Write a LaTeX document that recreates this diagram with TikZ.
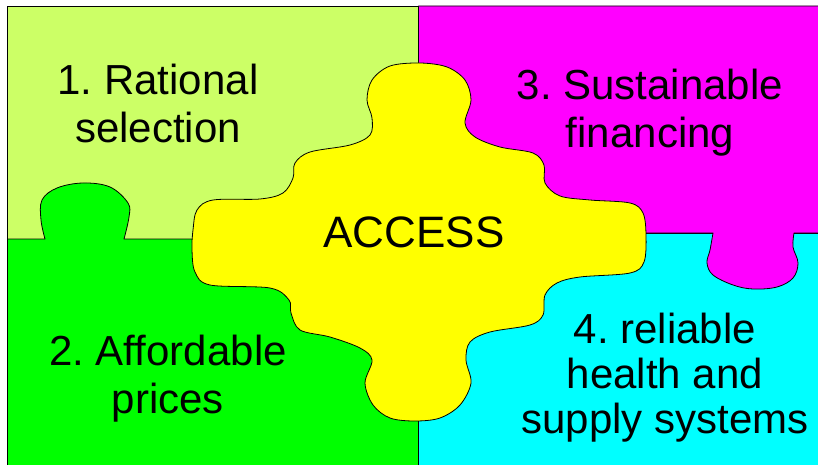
\documentclass[tikz,border=0pt]{standalone}
\usepackage{fontspec}
\setmainfont{Liberation Sans}
\frenchspacing
\definecolor{lightlime}{RGB}{204,255,102}
\definecolor{puzzlegreen}{RGB}{0,255,0}
\definecolor{puzzlemagenta}{RGB}{255,0,255}
\definecolor{puzzlecyan}{RGB}{0,255,255}
\definecolor{puzzleyellow}{RGB}{255,255,0}
\tikzset{piece/.style={draw=black, line width=0.8pt, line join=round},
         piecetext/.style={align=center, inner sep=0pt, anchor=base, font=\fontsize{42}{48}\selectfont}}
\def\splitx{418.5}
\def\splityl{239}
\def\splityr{233}

\begin{document}
\begin{tikzpicture}[x=1pt,y=-1pt]
\useasboundingbox (0,0) rectangle (818,465);

% Upper quadrants first, the lower ones lie over their tabs
\path[piece, fill=lightlime] (7.5,6) rectangle (\splitx,\splityl);
\path[piece, fill=puzzlecyan] (\splitx,\splityr) rectangle (830,480);
\path[piece, fill=puzzlemagenta] (\splitx,\splityr) -- (\splitx,6) -- (830,6) -- (830,\splityr) -- (794,\splityr)
  -- plot[smooth, tension=0.6] coordinates {(794,\splityr) (793,247) (798,263) (793,278) (777,287) (753,289) (733,285) (713,275) (707,263) (710,250) (713,\splityr)}
  -- cycle;
\path[piece, fill=puzzlegreen] (7.5,480) -- (7.5,\splityl) -- (45,\splityl)
  -- plot[smooth, tension=0.6] coordinates {(45,\splityl) (41,220) (42,200) (57,188) (83,183) (110,187) (128,203) (129,217) (124,\splityl)}
  -- (\splitx,\splityl) -- (\splitx,480) -- cycle;

% The ACCESS piece in the middle
\path[piece, fill=puzzleyellow] plot[smooth cycle, tension=0.55] coordinates {
  (193,230) (197,210) (213,200) (260,199) (283,193) (293,178) (295,163) (310,152) (350,145)
  (370,135) (372,118) (367,100) (372,80) (390,66) (420,63) (447,67) (465,80) (471,100) (465,123)
  (475,137) (500,147) (533,153) (544,165) (545,183) (560,196) (590,200) (630,203) (643,213)
  (646,235) (644,262) (630,273) (580,277) (557,283) (545,295) (543,315) (530,325) (490,332)
  (470,342) (466,360) (471,383) (460,405) (440,418) (415,421) (390,418) (373,405) (365,383)
  (372,360) (360,348) (330,337) (300,330) (291,313) (289,300) (270,288) (210,285) (195,272) (192,250)};

% base anchor sits on the last line
\node (rational) [piecetext] at (158,143) {1. Rational\\selection};
\node (financing) [piecetext] at (650,148) {3. Sustainable\\financing};
\node (affordable) [piecetext] at (168,413) {2. Affordable\\prices};
\node (supply) [piecetext, font=\fontsize{42}{45}\selectfont] at (665,433) {4. reliable\\health and\\supply systems};
\node (access) [piecetext, font=\fontsize{44}{48}\selectfont] at (414,247) {ACCESS};
\end{tikzpicture}
\end{document}
